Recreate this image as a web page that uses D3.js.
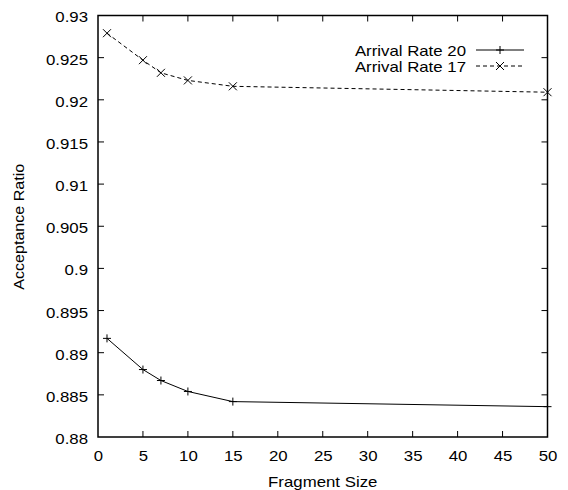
<!DOCTYPE html>
<html>
<head>
<meta charset="utf-8">
<script src="https://cdn.jsdelivr.net/npm/d3@7"></script>
<style>
  html, body { margin: 0; padding: 0; background: #fff; }
  svg { display: block; }
  text { font-family: "Liberation Sans", Arial, sans-serif; font-size: 15px; fill: #000; }
</style>
</head>
<body>
<svg id="chart" width="568" height="490"></svg>
<script>
// Fragment sizes on the x axis
const fragmentSizes = [1, 5, 7, 10, 15, 50];
// Acceptance ratio for each arrival rate
const rate20 = [0.8917, 0.8880, 0.8867, 0.8854, 0.8842, 0.8836];
const rate17 = [0.9279, 0.9247, 0.9232, 0.9223, 0.9216, 0.9209];
const seriesNames = ["Arrival Rate 20", "Arrival Rate 17"];
// Tick values
const xTicks = [0, 5, 10, 15, 20, 25, 30, 35, 40, 45, 50];
const yTicks = [0.88, 0.885, 0.89, 0.895, 0.9, 0.905, 0.91, 0.915, 0.92, 0.925, 0.93];
const yTickLabels = ["0.88", "0.885", "0.89", "0.895", "0.9", "0.905", "0.91", "0.915", "0.92", "0.925", "0.93"];

const svg = d3.select("#chart");
const plotLeft = 98, plotRight = 547.5, plotTop = 15.5, plotBottom = 437;
const fontCss = "Liberation Sans, Arial, sans-serif";

const x = d3.scaleLinear().domain([0, 50]).range([plotLeft, plotRight]);
const y = d3.scaleLinear().domain([0.88, 0.93]).range([plotBottom, plotTop]);
const tickLen = 6;

// Axis labels; tick marks drawn inward and mirrored below
const xAxis = svg.append("g").attr("transform", `translate(0,${plotBottom})`)
  .call(d3.axisBottom(x).tickValues(xTicks).tickSize(0).tickPadding(13).tickFormat(d3.format("d")));
xAxis.select(".domain").remove();
xAxis.selectAll("text").style("font-size", "15px").style("font-family", fontCss);

const yAxis = svg.append("g").attr("transform", `translate(${plotLeft},0)`)
  .call(d3.axisLeft(y).tickValues(yTicks).tickSize(0).tickPadding(10)
    .tickFormat((d, i) => yTickLabels[i]));
yAxis.select(".domain").remove();
yAxis.selectAll("text").style("font-size", "15px").style("font-family", fontCss).attr("dy", "0.43em");

const ticks = svg.append("g").attr("stroke", "#000").attr("stroke-width", 1);
xTicks.slice(1, -1).forEach(t => {
  ticks.append("line").attr("x1", x(t)).attr("x2", x(t)).attr("y1", plotBottom).attr("y2", plotBottom - tickLen);
  ticks.append("line").attr("x1", x(t)).attr("x2", x(t)).attr("y1", plotTop).attr("y2", plotTop + tickLen);
});
yTicks.slice(1, -1).forEach(t => {
  ticks.append("line").attr("x1", plotLeft).attr("x2", plotLeft + tickLen).attr("y1", y(t)).attr("y2", y(t));
  ticks.append("line").attr("x1", plotRight).attr("x2", plotRight - tickLen).attr("y1", y(t)).attr("y2", y(t));
});

// Plot border
svg.append("rect").attr("x", plotLeft).attr("y", plotTop)
  .attr("width", plotRight - plotLeft).attr("height", plotBottom - plotTop)
  .attr("fill", "none").attr("stroke", "#000").attr("stroke-width", 1.5);

// Axis titles
svg.append("text").attr("x", (plotLeft + plotRight) / 2).attr("y", 487)
  .attr("text-anchor", "middle").text("Fragment Size");
svg.append("text").attr("class", "ytitle")
  .attr("transform", `translate(24,${(plotTop + plotBottom) / 2 + 0.5}) rotate(-90)`)
  .attr("text-anchor", "middle").text("Acceptance Ratio");

const line = d3.line().x((d, i) => x(fragmentSizes[i])).y(d => y(d));
const m = 4;
function plus(g, cx, cy) {
  g.append("line").attr("x1", cx - m).attr("x2", cx + m).attr("y1", cy).attr("y2", cy);
  g.append("line").attr("x1", cx).attr("x2", cx).attr("y1", cy - m).attr("y2", cy + m);
}
function cross(g, cx, cy) {
  g.append("line").attr("x1", cx - m).attr("x2", cx + m).attr("y1", cy - m).attr("y2", cy + m);
  g.append("line").attr("x1", cx - m).attr("x2", cx + m).attr("y1", cy + m).attr("y2", cy - m);
}

// Arrival rate 20: solid line with plus markers
svg.append("path").datum(rate20).attr("d", line)
  .attr("fill", "none").attr("stroke", "#000").attr("stroke-width", 1);
const g20 = svg.append("g").attr("stroke", "#000").attr("stroke-width", 1);
rate20.forEach((v, i) => plus(g20, x(fragmentSizes[i]), y(v)));

// Arrival rate 17: dashed line with cross markers
svg.append("path").datum(rate17).attr("d", line)
  .attr("fill", "none").attr("stroke", "#000").attr("stroke-width", 1)
  .attr("stroke-dasharray", "4,3");
const g17 = svg.append("g").attr("stroke", "#000").attr("stroke-width", 1);
rate17.forEach((v, i) => cross(g17, x(fragmentSizes[i]), y(v)));

// Legend
const legend = svg.append("g");
const legRows = [50, 66];
const markers = [plus, cross];
seriesNames.forEach((name, i) => {
  legend.append("text").attr("x", 466).attr("y", legRows[i]).attr("dy", "0.4em")
    .attr("text-anchor", "end").text(name);
  const ln = legend.append("line").attr("x1", 476).attr("x2", 524)
    .attr("y1", legRows[i]).attr("y2", legRows[i])
    .attr("stroke", "#000").attr("stroke-width", 1);
  if (i === 1) ln.attr("stroke-dasharray", "4,3");
  const mg = legend.append("g").attr("stroke", "#000").attr("stroke-width", 1);
  markers[i](mg, 500, legRows[i]);
});

// Widen the lettering slightly (the typeface is drawn a little broad)
svg.selectAll("text").each(function () {
  const len = this.getComputedTextLength();
  const k = this.classList.contains("ytitle") ? 1.07 : 1.12;
  d3.select(this).attr("textLength", (len * k).toFixed(1)).attr("lengthAdjust", "spacingAndGlyphs");
});
</script>
</body>
</html>
